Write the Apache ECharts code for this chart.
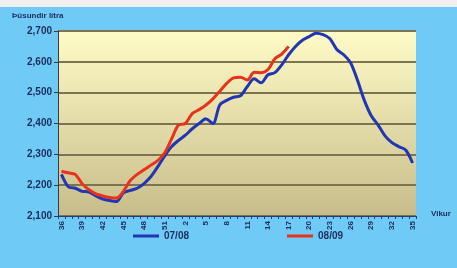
<!DOCTYPE html>
<html>
<head>
<meta charset="utf-8">
<script src="https://cdn.jsdelivr.net/npm/echarts@6/dist/echarts.min.js"></script>
<style>
  html, body { margin: 0; padding: 0; }
  #main { width: 457px; height: 268px; }
</style>
</head>
<body>
<div id="main"></div>
<script>
// vikur 36..52 og 1..35
var weeks = ['36','37','38','39','40','41','42','43','44','45','46','47','48','49','50','51','52',
  '1','2','3','4','5','6','7','8','9','10','11','12','13','14','15','16','17','18','19','20',
  '21','22','23','24','25','26','27','28','29','30','31','32','33','34','35'];

// 07/08
var s0708 = [2235, 2195, 2190, 2180, 2178, 2165, 2155, 2150, 2147, 2175, 2183, 2190, 2205, 2228,
  2260, 2295, 2325, 2345, 2362, 2383, 2400, 2415, 2400, 2460, 2475, 2485, 2490, 2520, 2545, 2532,
  2558, 2565, 2590, 2623, 2650, 2670, 2682, 2693, 2688, 2675, 2640, 2623, 2597, 2540, 2475, 2425,
  2395, 2360, 2338, 2325, 2314, 2272];

// 08/09
var s0809 = [2245, 2240, 2235, 2205, 2185, 2172, 2165, 2160, 2158, 2180, 2215, 2235, 2250, 2265,
  2280, 2305, 2350, 2395, 2400, 2432, 2445, 2460, 2480, 2505, 2530, 2548, 2550, 2541, 2566, 2565,
  2575, 2610, 2625, 2650];

var yMin = 2100, yMax = 2700, yStep = 100;

var textColor = '#1c2d5c';
var font = 'Liberation Sans';

var chart = echarts.init(document.getElementById('main'));
chart.setOption({
  backgroundColor: '#6fcaf6',
  animation: false,
  textStyle: { fontFamily: font },
  graphic: [{
    type: 'rect', left: 0, top: 0,
    shape: { width: 457, height: 7 },
    style: { fill: '#efefef' }
  }, {
    type: 'text', left: 12, top: 12,
    style: { text: 'Þúsundir lítra', fill: textColor, font: 'bold 8px Liberation Sans' }
  }, {
    type: 'text', left: 431, top: 210,
    style: { text: 'Vikur', fill: textColor, font: 'bold 8px Liberation Sans' }
  }],
  grid: {
    left: 58, right: 41, top: 31, bottom: 52,
    show: true, borderWidth: 0,
    backgroundColor: new echarts.graphic.LinearGradient(0, 0, 0, 1, [
      { offset: 0, color: '#fffbc6' },
      { offset: 1, color: '#c8bd8a' }
    ])
  },
  legend: {
    bottom: 22, left: 128,
    itemWidth: 26, itemHeight: 3, itemGap: 98,
    icon: 'rect',
    textStyle: { color: textColor, fontSize: 10, fontWeight: 'bold', fontFamily: font },
    data: ['07/08', '08/09']
  },
  xAxis: {
    type: 'category',
    data: weeks,
    boundaryGap: true,
    axisLine: { lineStyle: { color: '#2a3a78', width: 1 } },
    axisTick: { show: true, interval: 0, length: 3, lineStyle: { color: '#2a3a78' } },
    axisLabel: { interval: 2, rotate: 90, fontSize: 8, color: textColor, fontWeight: 'bold', margin: 5 },
    splitLine: { show: false }
  },
  yAxis: {
    type: 'value',
    min: yMin, max: yMax, interval: yStep,
    axisLine: { show: true, lineStyle: { color: '#3a3a40', width: 1 } },
    axisTick: { show: true, length: 4, lineStyle: { color: '#3a3a40' } },
    axisLabel: {
      fontSize: 10, color: textColor, fontWeight: 'bold', margin: 6,
      formatter: function(v) { return v.toLocaleString('en-US'); }
    },
    splitLine: { lineStyle: { color: '#7b7452', width: 2 } }
  },
  series: [{
    name: '07/08',
    type: 'line',
    data: s0708,
    showSymbol: false,
    smooth: 0.3,
    z: 3,
    itemStyle: { color: '#2236b4' },
    lineStyle: { color: '#2236b4', width: 3 }
  }, {
    name: '08/09',
    type: 'line',
    data: s0809,
    showSymbol: false,
    smooth: 0.3,
    z: 4,
    itemStyle: { color: '#e8321e' },
    lineStyle: { color: '#e8321e', width: 3 }
  }]
});
</script>
</body>
</html>
